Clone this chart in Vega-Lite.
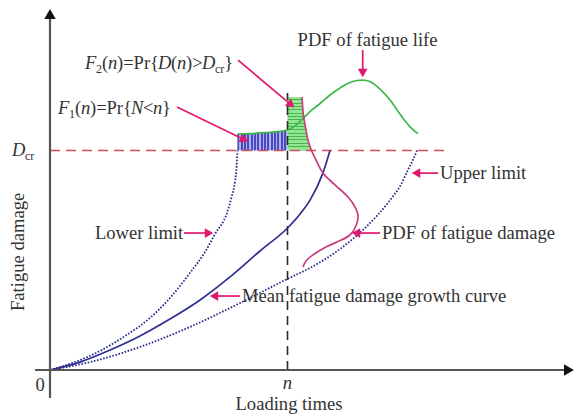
{
  "$schema": "https://vega.github.io/schema/vega-lite/v6.json",
  "width": 576,
  "height": 416,
  "padding": 0,
  "autosize": {"type": "fit", "contains": "padding"},
  "background": "white",
  "config": {"view": {"stroke": null}},
  "datasets": {
    "axes": [
      {"x": 0, "y": -0.128, "x2": 0, "y2": 1.622},
      {"x": -0.063, "y": 0, "x2": 2.18, "y2": 0}
    ],
    "axisHeadsUp": [{"x": 0, "y": 1.622}],
    "axisHeadsRight": [{"x": 2.185, "y": 0}],
    "dcr": [{"x": 0, "y": 1, "x2": 1.684, "y2": 1}],
    "nline": [{"x": 1, "y": 0, "x2": 1, "y2": 1.262}],
    "f1area": [
      {"x": 0.789, "y": 1.075}, {"x": 0.842, "y": 1.077}, {"x": 0.905, "y": 1.081},
      {"x": 0.968, "y": 1.087}, {"x": 1.0, "y": 1.093}
    ],
    "f2area": [
      {"y": 1.0, "x": 1.101}, {"y": 1.048, "x": 1.086}, {"y": 1.093, "x": 1.078},
      {"y": 1.162, "x": 1.067}, {"y": 1.244, "x": 1.061}
    ],
    "mean": [
      {"x": 0, "y": 0}, {"x": 0.126, "y": 0.036}, {"x": 0.253, "y": 0.091},
      {"x": 0.379, "y": 0.155}, {"x": 0.505, "y": 0.232}, {"x": 0.632, "y": 0.319},
      {"x": 0.758, "y": 0.424}, {"x": 0.884, "y": 0.542}, {"x": 1.0, "y": 0.647},
      {"x": 1.053, "y": 0.711}, {"x": 1.095, "y": 0.774}, {"x": 1.149, "y": 0.897},
      {"x": 1.179, "y": 1.0}
    ],
    "lower": [
      {"x": 0, "y": 0}, {"x": 0.105, "y": 0.036}, {"x": 0.211, "y": 0.087},
      {"x": 0.316, "y": 0.155}, {"x": 0.421, "y": 0.237}, {"x": 0.505, "y": 0.328},
      {"x": 0.589, "y": 0.442}, {"x": 0.653, "y": 0.538}, {"x": 0.695, "y": 0.62},
      {"x": 0.745, "y": 0.715}, {"x": 0.765, "y": 0.79}, {"x": 0.779, "y": 0.86},
      {"x": 0.786, "y": 0.93}, {"x": 0.789, "y": 1.0}
    ],
    "upper": [
      {"x": 0, "y": 0}, {"x": 0.168, "y": 0.036}, {"x": 0.379, "y": 0.105},
      {"x": 0.589, "y": 0.196}, {"x": 0.8, "y": 0.305}, {"x": 1.0, "y": 0.415},
      {"x": 1.095, "y": 0.465}, {"x": 1.221, "y": 0.551}, {"x": 1.335, "y": 0.656},
      {"x": 1.432, "y": 0.774}, {"x": 1.474, "y": 0.838}, {"x": 1.507, "y": 0.911},
      {"x": 1.528, "y": 0.957}, {"x": 1.545, "y": 1.0}
    ],
    "life": [
      {"x": 0.789, "y": 1.075}, {"x": 0.842, "y": 1.077}, {"x": 0.905, "y": 1.081},
      {"x": 0.968, "y": 1.087}, {"x": 1.0, "y": 1.093}, {"x": 1.032, "y": 1.112},
      {"x": 1.065, "y": 1.146}, {"x": 1.103, "y": 1.185}, {"x": 1.137, "y": 1.214},
      {"x": 1.179, "y": 1.253}, {"x": 1.221, "y": 1.285}, {"x": 1.263, "y": 1.31},
      {"x": 1.293, "y": 1.319}, {"x": 1.318, "y": 1.321}, {"x": 1.347, "y": 1.314},
      {"x": 1.389, "y": 1.28}, {"x": 1.432, "y": 1.23}, {"x": 1.461, "y": 1.185},
      {"x": 1.495, "y": 1.134}, {"x": 1.52, "y": 1.103}, {"x": 1.549, "y": 1.077}
    ],
    "damage": [
      {"i": 0, "x": 1.061, "y": 1.244}, {"i": 1, "x": 1.067, "y": 1.162},
      {"i": 2, "x": 1.078, "y": 1.093}, {"i": 3, "x": 1.086, "y": 1.048},
      {"i": 4, "x": 1.101, "y": 1.0}, {"i": 5, "x": 1.124, "y": 0.948},
      {"i": 6, "x": 1.149, "y": 0.897}, {"i": 7, "x": 1.2, "y": 0.843},
      {"i": 8, "x": 1.255, "y": 0.788}, {"i": 9, "x": 1.284, "y": 0.743},
      {"i": 10, "x": 1.297, "y": 0.702}, {"i": 11, "x": 1.288, "y": 0.656},
      {"i": 12, "x": 1.263, "y": 0.615}, {"i": 13, "x": 1.208, "y": 0.583},
      {"i": 14, "x": 1.154, "y": 0.556}, {"i": 15, "x": 1.107, "y": 0.524},
      {"i": 16, "x": 1.078, "y": 0.497}, {"i": 17, "x": 1.065, "y": 0.469}
    ],
    "arrows": [
      {"x": 1.3166, "y": 1.458, "x2": 1.3166, "y2": 1.358},
      {"x": 0.7916, "y": 1.412, "x2": 1.0156, "y2": 1.208},
      {"x": 0.5347, "y": 1.198, "x2": 0.8189, "y2": 1.049},
      {"x": 0.5642, "y": 0.624, "x2": 0.6695, "y2": 0.624},
      {"x": 0.8, "y": 0.337, "x2": 0.6905, "y2": 0.337},
      {"x": 1.6337, "y": 0.897, "x2": 1.5411, "y2": 0.897},
      {"x": 1.3895, "y": 0.624, "x2": 1.2884, "y2": 0.624}
    ],
    "heads": [
      {"x": 1.3166, "y": 1.353, "a": 90},
      {"x": 1.0156, "y": 1.208, "a": 40},
      {"x": 0.8189, "y": 1.049, "a": 26},
      {"x": 0.6695, "y": 0.624, "a": 0},
      {"x": 0.6905, "y": 0.337, "a": 180},
      {"x": 1.5411, "y": 0.897, "a": 180},
      {"x": 1.2884, "y": 0.624, "a": 180}
    ],
    "labelsLeft": [
      {"t": "Upper limit", "x": 1.642, "y": 0.897},
      {"t": "PDF of fatigue damage", "x": 1.398, "y": 0.624},
      {"t": "Lower limit", "x": 0.189, "y": 0.624},
      {"t": "Mean fatigue damage growth curve", "x": 0.808, "y": 0.337}
    ],
    "labelsCenter": [
      {"t": "PDF of fatigue life", "x": 1.337, "y": 1.503}
    ],
    "labelsBase": [
      {"t": "0", "x": -0.042, "y": -0.096},
      {"t": "Loading times", "x": 1.006, "y": -0.182}
    ],
    "labelsItalicCenter": [
      {"t": "n", "x": 1.0, "y": -0.087}
    ],
    "labelsRot": [
      {"t": "Fatigue damage", "x": -0.135, "y": 0.538}
    ],
    "mathItalic": [
      {"t": "F", "x": 0.0337, "y": 1.166}, {"t": "n", "x": 0.1305, "y": 1.166},
      {"t": "N", "x": 0.3411, "y": 1.166}, {"t": "n", "x": 0.4337, "y": 1.166},
      {"t": "F", "x": 0.1474, "y": 1.371}, {"t": "n", "x": 0.2442, "y": 1.371},
      {"t": "D", "x": 0.4547, "y": 1.371}, {"t": "n", "x": 0.5347, "y": 1.371},
      {"t": "D", "x": 0.64, "y": 1.371}, {"t": "D", "x": -0.16, "y": 0.975}
    ],
    "mathRoman": [
      {"t": "(", "x": 0.1053, "y": 1.166}, {"t": ")=Pr{", "x": 0.1684, "y": 1.166},
      {"t": "<", "x": 0.3916, "y": 1.166}, {"t": "}", "x": 0.4716, "y": 1.166},
      {"t": "(", "x": 0.2189, "y": 1.371}, {"t": ")=Pr{", "x": 0.2821, "y": 1.371},
      {"t": "(", "x": 0.5095, "y": 1.371}, {"t": ")>", "x": 0.5726, "y": 1.371},
      {"t": "}", "x": 0.7339, "y": 1.371}
    ],
    "mathSub": [
      {"t": "1", "x": 0.08, "y": 1.148}, {"t": "2", "x": 0.1937, "y": 1.353},
      {"t": "cr", "x": 0.6947, "y": 1.353}, {"t": "cr", "x": -0.1053, "y": 0.957}
    ]
  },
  "encoding": {
    "x": {"field": "x", "type": "quantitative", "scale": {"domain": [-0.2105, 2.2147], "nice": false, "zero": false}, "axis": null},
    "y": {"field": "y", "type": "quantitative", "scale": {"domain": [-0.2096, 1.6856], "nice": false, "zero": false}, "axis": null}
  },
  "layer": [
    {
      "data": {"name": "f1area"},
      "mark": {"type": "area", "color": {"gradient": "linear", "x1": 0, "y1": 0, "x2": 1, "y2": 0, "stops": [
        {"offset": 0, "color": "#4a4ac2"}, {"offset": 0.04, "color": "#4a4ac2"}, {"offset": 0.04, "color": "#b0b0ec"}, {"offset": 0.0667, "color": "#b0b0ec"},
        {"offset": 0.0667, "color": "#4a4ac2"}, {"offset": 0.1067, "color": "#4a4ac2"}, {"offset": 0.1067, "color": "#b0b0ec"}, {"offset": 0.1333, "color": "#b0b0ec"},
        {"offset": 0.1333, "color": "#4a4ac2"}, {"offset": 0.1733, "color": "#4a4ac2"}, {"offset": 0.1733, "color": "#b0b0ec"}, {"offset": 0.2, "color": "#b0b0ec"},
        {"offset": 0.2, "color": "#4a4ac2"}, {"offset": 0.24, "color": "#4a4ac2"}, {"offset": 0.24, "color": "#b0b0ec"}, {"offset": 0.2667, "color": "#b0b0ec"},
        {"offset": 0.2667, "color": "#4a4ac2"}, {"offset": 0.3067, "color": "#4a4ac2"}, {"offset": 0.3067, "color": "#b0b0ec"}, {"offset": 0.3333, "color": "#b0b0ec"},
        {"offset": 0.3333, "color": "#4a4ac2"}, {"offset": 0.3733, "color": "#4a4ac2"}, {"offset": 0.3733, "color": "#b0b0ec"}, {"offset": 0.4, "color": "#b0b0ec"},
        {"offset": 0.4, "color": "#4a4ac2"}, {"offset": 0.44, "color": "#4a4ac2"}, {"offset": 0.44, "color": "#b0b0ec"}, {"offset": 0.4667, "color": "#b0b0ec"},
        {"offset": 0.4667, "color": "#4a4ac2"}, {"offset": 0.5067, "color": "#4a4ac2"}, {"offset": 0.5067, "color": "#b0b0ec"}, {"offset": 0.5333, "color": "#b0b0ec"},
        {"offset": 0.5333, "color": "#4a4ac2"}, {"offset": 0.5733, "color": "#4a4ac2"}, {"offset": 0.5733, "color": "#b0b0ec"}, {"offset": 0.6, "color": "#b0b0ec"},
        {"offset": 0.6, "color": "#4a4ac2"}, {"offset": 0.64, "color": "#4a4ac2"}, {"offset": 0.64, "color": "#b0b0ec"}, {"offset": 0.6667, "color": "#b0b0ec"},
        {"offset": 0.6667, "color": "#4a4ac2"}, {"offset": 0.7067, "color": "#4a4ac2"}, {"offset": 0.7067, "color": "#b0b0ec"}, {"offset": 0.7333, "color": "#b0b0ec"},
        {"offset": 0.7333, "color": "#4a4ac2"}, {"offset": 0.7733, "color": "#4a4ac2"}, {"offset": 0.7733, "color": "#b0b0ec"}, {"offset": 0.8, "color": "#b0b0ec"},
        {"offset": 0.8, "color": "#4a4ac2"}, {"offset": 0.84, "color": "#4a4ac2"}, {"offset": 0.84, "color": "#b0b0ec"}, {"offset": 0.8667, "color": "#b0b0ec"},
        {"offset": 0.8667, "color": "#4a4ac2"}, {"offset": 0.9067, "color": "#4a4ac2"}, {"offset": 0.9067, "color": "#b0b0ec"}, {"offset": 0.9333, "color": "#b0b0ec"},
        {"offset": 0.9333, "color": "#4a4ac2"}, {"offset": 0.9733, "color": "#4a4ac2"}, {"offset": 0.9733, "color": "#b0b0ec"}, {"offset": 1, "color": "#b0b0ec"}
      ]}, "interpolate": "monotone"},
      "encoding": {"y2": {"datum": 1}}
    },
    {
      "data": {"name": "f2area"},
      "mark": {"type": "area", "orient": "horizontal", "interpolate": "monotone", "color": {"gradient": "linear", "x1": 0, "y1": 0, "x2": 0, "y2": 1, "stops": [
        {"offset": 0, "color": "#90e890"}, {"offset": 0.044, "color": "#90e890"}, {"offset": 0.044, "color": "#4fb04f"}, {"offset": 0.0625, "color": "#4fb04f"},
        {"offset": 0.0625, "color": "#90e890"}, {"offset": 0.1065, "color": "#90e890"}, {"offset": 0.1065, "color": "#4fb04f"}, {"offset": 0.125, "color": "#4fb04f"},
        {"offset": 0.125, "color": "#90e890"}, {"offset": 0.169, "color": "#90e890"}, {"offset": 0.169, "color": "#4fb04f"}, {"offset": 0.1875, "color": "#4fb04f"},
        {"offset": 0.1875, "color": "#90e890"}, {"offset": 0.2315, "color": "#90e890"}, {"offset": 0.2315, "color": "#4fb04f"}, {"offset": 0.25, "color": "#4fb04f"},
        {"offset": 0.25, "color": "#90e890"}, {"offset": 0.294, "color": "#90e890"}, {"offset": 0.294, "color": "#4fb04f"}, {"offset": 0.3125, "color": "#4fb04f"},
        {"offset": 0.3125, "color": "#90e890"}, {"offset": 0.3565, "color": "#90e890"}, {"offset": 0.3565, "color": "#4fb04f"}, {"offset": 0.375, "color": "#4fb04f"},
        {"offset": 0.375, "color": "#90e890"}, {"offset": 0.419, "color": "#90e890"}, {"offset": 0.419, "color": "#4fb04f"}, {"offset": 0.4375, "color": "#4fb04f"},
        {"offset": 0.4375, "color": "#90e890"}, {"offset": 0.4815, "color": "#90e890"}, {"offset": 0.4815, "color": "#4fb04f"}, {"offset": 0.5, "color": "#4fb04f"},
        {"offset": 0.5, "color": "#90e890"}, {"offset": 0.544, "color": "#90e890"}, {"offset": 0.544, "color": "#4fb04f"}, {"offset": 0.5625, "color": "#4fb04f"},
        {"offset": 0.5625, "color": "#90e890"}, {"offset": 0.6065, "color": "#90e890"}, {"offset": 0.6065, "color": "#4fb04f"}, {"offset": 0.625, "color": "#4fb04f"},
        {"offset": 0.625, "color": "#90e890"}, {"offset": 0.669, "color": "#90e890"}, {"offset": 0.669, "color": "#4fb04f"}, {"offset": 0.6875, "color": "#4fb04f"},
        {"offset": 0.6875, "color": "#90e890"}, {"offset": 0.7315, "color": "#90e890"}, {"offset": 0.7315, "color": "#4fb04f"}, {"offset": 0.75, "color": "#4fb04f"},
        {"offset": 0.75, "color": "#90e890"}, {"offset": 0.794, "color": "#90e890"}, {"offset": 0.794, "color": "#4fb04f"}, {"offset": 0.8125, "color": "#4fb04f"},
        {"offset": 0.8125, "color": "#90e890"}, {"offset": 0.8565, "color": "#90e890"}, {"offset": 0.8565, "color": "#4fb04f"}, {"offset": 0.875, "color": "#4fb04f"},
        {"offset": 0.875, "color": "#90e890"}, {"offset": 0.919, "color": "#90e890"}, {"offset": 0.919, "color": "#4fb04f"}, {"offset": 0.9375, "color": "#4fb04f"},
        {"offset": 0.9375, "color": "#90e890"}, {"offset": 0.9815, "color": "#90e890"}, {"offset": 0.9815, "color": "#4fb04f"}, {"offset": 1, "color": "#4fb04f"}
      ]}},
      "encoding": {"x2": {"datum": 1}}
    },
    {
      "data": {"name": "dcr"},
      "mark": {"type": "rule", "color": "#d0505f", "strokeWidth": 1.6, "strokeDash": [10, 6]},
      "encoding": {"x2": {"field": "x2"}, "y2": {"field": "y2"}}
    },
    {
      "data": {"name": "nline"},
      "mark": {"type": "rule", "color": "#2a2a2a", "strokeWidth": 1.6, "strokeDash": [9, 6]},
      "encoding": {"x2": {"field": "x2"}, "y2": {"field": "y2"}}
    },
    {
      "data": {"name": "lower"},
      "mark": {"type": "line", "color": "#2a2a8c", "strokeWidth": 1.8, "strokeDash": [1.6, 1.6], "interpolate": "monotone"}
    },
    {
      "data": {"name": "upper"},
      "mark": {"type": "line", "color": "#2a2a8c", "strokeWidth": 1.8, "strokeDash": [1.6, 1.6], "interpolate": "monotone"}
    },
    {
      "data": {"name": "mean"},
      "mark": {"type": "line", "color": "#2e2e90", "strokeWidth": 1.7, "interpolate": "monotone"}
    },
    {
      "data": {"name": "life"},
      "mark": {"type": "line", "color": "#3cb84a", "strokeWidth": 1.7, "interpolate": "monotone"}
    },
    {
      "data": {"name": "damage"},
      "mark": {"type": "line", "color": "#c83c80", "strokeWidth": 1.7, "interpolate": "catmull-rom"},
      "encoding": {"order": {"field": "i", "type": "quantitative"}}
    },
    {
      "data": {"name": "axes"},
      "mark": {"type": "rule", "color": "#555555", "strokeWidth": 2.2},
      "encoding": {"x2": {"field": "x2"}, "y2": {"field": "y2"}}
    },
    {
      "data": {"name": "axisHeadsUp"},
      "mark": {"type": "point", "shape": "triangle-up", "filled": true, "color": "#111111", "size": 130, "opacity": 1}
    },
    {
      "data": {"name": "axisHeadsRight"},
      "mark": {"type": "point", "shape": "triangle-right", "filled": true, "color": "#111111", "size": 130, "opacity": 1}
    },
    {
      "data": {"name": "arrows"},
      "mark": {"type": "rule", "color": "#e0186f", "strokeWidth": 1.7},
      "encoding": {"x2": {"field": "x2"}, "y2": {"field": "y2"}}
    },
    {
      "data": {"name": "heads"},
      "mark": {"type": "point", "shape": "triangle-right", "filled": true, "color": "#e0186f", "size": 95, "opacity": 1},
      "encoding": {"angle": {"field": "a", "type": "quantitative", "scale": null}}
    },
    {
      "data": {"name": "labelsLeft"},
      "mark": {"type": "text", "align": "left", "baseline": "middle", "font": "Liberation Serif", "fontSize": 18.6, "color": "#333333"},
      "encoding": {"text": {"field": "t"}}
    },
    {
      "data": {"name": "labelsCenter"},
      "mark": {"type": "text", "align": "center", "baseline": "middle", "font": "Liberation Serif", "fontSize": 18.6, "color": "#333333"},
      "encoding": {"text": {"field": "t"}}
    },
    {
      "data": {"name": "labelsBase"},
      "mark": {"type": "text", "align": "center", "baseline": "alphabetic", "font": "Liberation Serif", "fontSize": 18.6, "color": "#333333"},
      "encoding": {"text": {"field": "t"}}
    },
    {
      "data": {"name": "labelsItalicCenter"},
      "mark": {"type": "text", "align": "center", "baseline": "alphabetic", "font": "Liberation Serif", "fontStyle": "italic", "fontSize": 18.6, "color": "#333333"},
      "encoding": {"text": {"field": "t"}}
    },
    {
      "data": {"name": "labelsRot"},
      "mark": {"type": "text", "align": "center", "baseline": "middle", "angle": 270, "font": "Liberation Serif", "fontSize": 18.6, "color": "#333333"},
      "encoding": {"text": {"field": "t"}}
    },
    {
      "data": {"name": "mathItalic"},
      "mark": {"type": "text", "align": "left", "baseline": "alphabetic", "font": "Liberation Serif", "fontStyle": "italic", "fontSize": 18.5, "color": "#333333"},
      "encoding": {"text": {"field": "t"}}
    },
    {
      "data": {"name": "mathRoman"},
      "mark": {"type": "text", "align": "left", "baseline": "alphabetic", "font": "Liberation Serif", "fontSize": 18.5, "color": "#333333"},
      "encoding": {"text": {"field": "t"}}
    },
    {
      "data": {"name": "mathSub"},
      "mark": {"type": "text", "align": "left", "baseline": "alphabetic", "font": "Liberation Serif", "fontSize": 12, "color": "#333333"},
      "encoding": {"text": {"field": "t"}}
    }
  ]
}
